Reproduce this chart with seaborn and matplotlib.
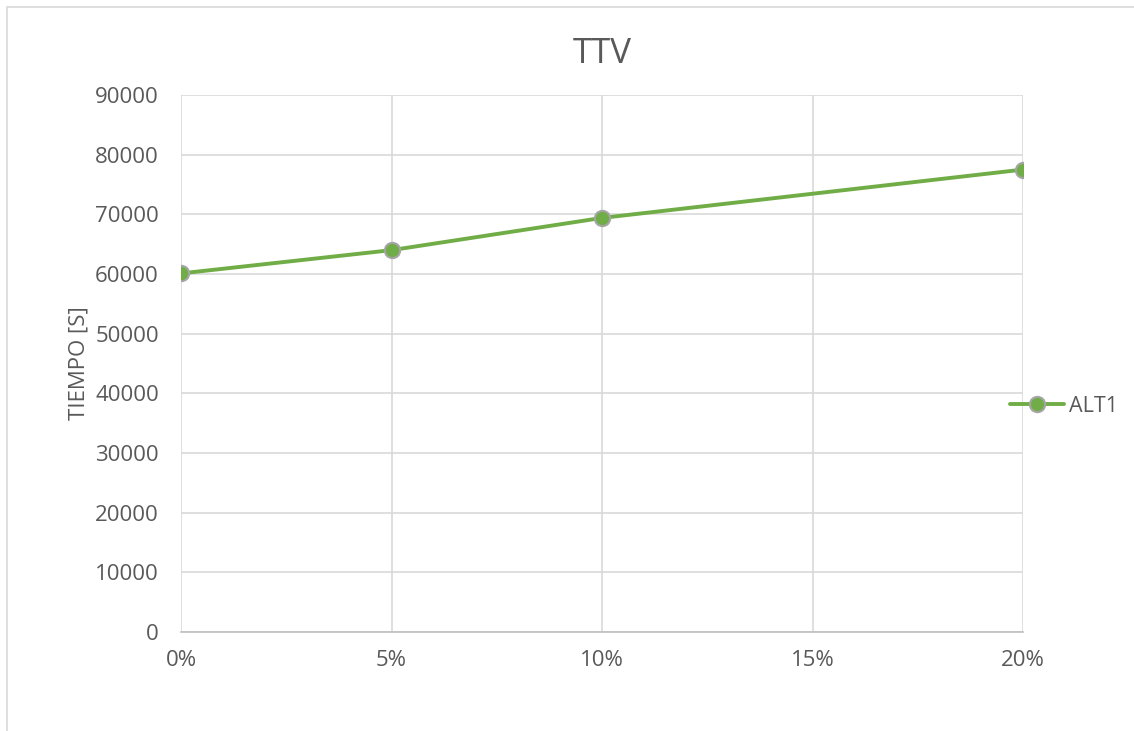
import matplotlib
matplotlib.use('Agg')
import matplotlib.pyplot as plt
import matplotlib.ticker as mticker
from matplotlib.patches import Rectangle
import numpy as np
import pandas as pd
import seaborn as sns

# datos
porcentaje = [0.00, 0.05, 0.10, 0.20]
tiempo_alt1 = [60100, 64000, 69400, 77500]
serie = 'ALT1'

df = pd.DataFrame({'pct': porcentaje, 'tiempo': tiempo_alt1, 'serie': serie})

sns.set_style("white")
plt.rcParams['font.family'] = ['Open Sans', 'DejaVu Sans']

verde = '#70AD47'
gris_txt = '#595959'
gris_grid = '#D9D9D9'

fig = plt.figure(figsize=(11.34, 7.31), dpi=100)
ax = fig.add_axes([181/1134, 1 - 632/731, (1023 - 181)/1134, (632 - 95)/731])

sns.lineplot(data=df, x='pct', y='tiempo', hue='serie', palette=[verde], ax=ax,
             linewidth=2.8, marker='o', markersize=11, markerfacecolor=verde,
             markeredgecolor='#A5A5A5', markeredgewidth=1.5, zorder=3)

ax.set_xlim(0, 0.20)
ax.set_ylim(0, 90000)
ax.xaxis.set_major_locator(mticker.MultipleLocator(0.05))
ax.yaxis.set_major_locator(mticker.MultipleLocator(10000))
ax.xaxis.set_major_formatter(mticker.FuncFormatter(lambda v, p: f'{v*100:.0f}%'))
ax.yaxis.set_major_formatter(mticker.FuncFormatter(lambda v, p: f'{v:.0f}'))

ax.grid(True, color=gris_grid, linewidth=1.2, zorder=0)
ax.set_axisbelow(True)
for s in ['top', 'right', 'left']:
    ax.spines[s].set_visible(False)
ax.spines['bottom'].set_color('#BFBFBF')
ax.spines['bottom'].set_linewidth(1.2)

ax.tick_params(axis='both', length=0, labelsize=16, labelcolor=gris_txt)
ax.tick_params(axis='x', pad=13)
ax.tick_params(axis='y', pad=16)

ax.set_xlabel('')
ax.set_ylabel('TIEMPO [S]', fontsize=16, color=gris_txt, labelpad=4)
ax.set_title('TTV', fontsize=25, color=gris_txt, pad=23)

leg = ax.legend(loc='center left', bbox_to_anchor=(0.974, 0.42), frameon=False,
                fontsize=15.5, handlelength=2.5, handletextpad=0.25, borderaxespad=0)
for t in leg.get_texts():
    t.set_color(gris_txt)

# borde del area del grafico (izquierda y arriba)
fig.patches.append(Rectangle((7/1134, -0.05), 1.1, 1 - 7/731 + 0.05,
                             transform=fig.transFigure, fill=False,
                             edgecolor='#D9D9D9', linewidth=1.2))

plt.savefig('out.png', dpi=100)
